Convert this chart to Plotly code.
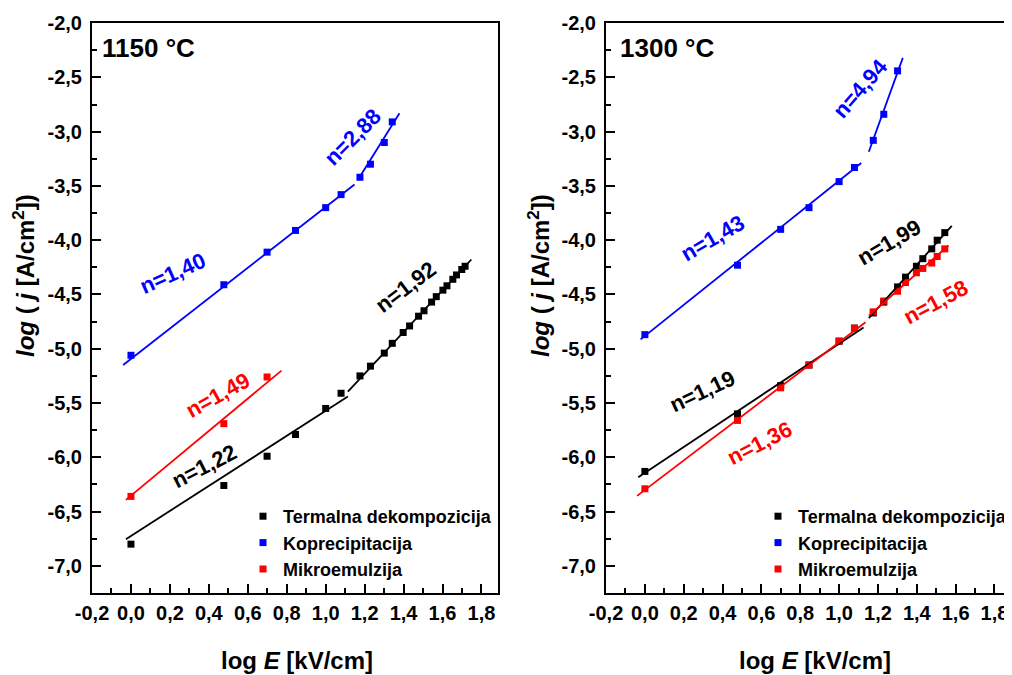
import plotly.graph_objects as go

# ---------------- data ----------------
# Left panel: 1150 °C
l_term_x = [0.0, 0.477, 0.699, 0.845, 1.0, 1.079, 1.176, 1.230, 1.301, 1.342, 1.398,
            1.431, 1.477, 1.505, 1.544, 1.568, 1.602, 1.623, 1.653, 1.672, 1.699, 1.716]
l_term_y = [-6.80, -6.26, -5.99, -5.79, -5.55, -5.41, -5.25, -5.16, -5.04, -4.95, -4.85,
            -4.79, -4.70, -4.65, -4.57, -4.52, -4.46, -4.42, -4.36, -4.32, -4.27, -4.24]
l_kop_x = [0.0, 0.477, 0.699, 0.845, 1.0, 1.079, 1.176, 1.230, 1.301, 1.342]
l_kop_y = [-5.06, -4.41, -4.11, -3.91, -3.70, -3.58, -3.42, -3.30, -3.10, -2.91]
l_mik_x = [0.0, 0.477, 0.699]
l_mik_y = [-6.36, -5.69, -5.26]

# Right panel: 1300 °C
r_term_x = [0.0, 0.477, 0.699, 0.845, 1.0, 1.079, 1.176, 1.230, 1.301, 1.342, 1.398,
            1.431, 1.477, 1.505, 1.544]
r_term_y = [-6.13, -5.60, -5.34, -5.15, -4.93, -4.81, -4.67, -4.57, -4.43, -4.34, -4.24,
            -4.17, -4.08, -4.00, -3.93]
r_kop_x = [0.0, 0.477, 0.699, 0.845, 1.0, 1.079, 1.176, 1.230, 1.301]
r_kop_y = [-4.87, -4.23, -3.90, -3.70, -3.46, -3.33, -3.08, -2.84, -2.44]
r_mik_x = [0.0, 0.477, 0.699, 0.845, 1.0, 1.079, 1.176, 1.230, 1.301, 1.342, 1.398,
           1.431, 1.477, 1.505, 1.544]
r_mik_y = [-6.29, -5.66, -5.36, -5.15, -4.93, -4.81, -4.66, -4.56, -4.47, -4.39, -4.30,
           -4.26, -4.21, -4.15, -4.08]

# Linear fits: y = intercept + slope * x, drawn from x0 to x1
fit_panel = ["L", "L", "L", "L", "L", "R", "R", "R", "R", "R", "R"]
fit_series = ["term", "term", "kop", "kop", "mik", "term", "term", "kop", "kop", "mik", "mik"]
fit_slope = [1.152, 1.92, 1.40, 2.88, 1.49, 1.19, 1.99, 1.43, 4.94, 1.36, 1.58]
fit_intercept = [-6.724, -7.534, -5.094, -6.801, -6.353, -6.143, -7.013, -4.882, -8.881, -6.301, -6.518]
fit_x0 = [-0.026, 1.114, -0.040, 1.165, -0.026, -0.034, 1.153, -0.022, 1.153, -0.040, 1.153]
fit_x1 = [1.114, 1.748, 1.148, 1.379, 0.773, 1.126, 1.580, 1.114, 1.328, 1.136, 1.563]

series_names = {"term": "Termalna dekompozicija", "kop": "Koprecipitacija", "mik": "Mikroemulzija"}
series_colors = {"term": "#000000", "kop": "#0000FF", "mik": "#FF0000"}

# slope labels (text, series, pixel x, pixel y, angle)
lbl_text = ["n=1,40", "n=2,88", "n=1,49", "n=1,22", "n=1,92",
            "n=4,94", "n=1,43", "n=1,99", "n=1,58", "n=1,19", "n=1,36"]
lbl_series = ["kop", "kop", "mik", "term", "term", "kop", "kop", "term", "mik", "term", "mik"]
lbl_px = [172, 352, 217, 204, 405, 860, 712, 889, 935, 702, 759]
lbl_py = [273, 137, 395, 467, 287, 88, 238, 243, 302, 392, 443]
lbl_angle = [-24, -45, -29, -27, -37, -49, -30, -30, -28, -25, -27]

panel_titles = ["1150 °C", "1300 °C"]
x_ticks = [-0.2, 0.0, 0.2, 0.4, 0.6, 0.8, 1.0, 1.2, 1.4, 1.6, 1.8]
x_ticktext = ["-0,2", "0,0", "0,2", "0,4", "0,6", "0,8", "1,0", "1,2", "1,4", "1,6", "1,8"]
y_ticks = [-2.0, -2.5, -3.0, -3.5, -4.0, -4.5, -5.0, -5.5, -6.0, -6.5, -7.0]
y_ticktext = ["-2,0", "-2,5", "-3,0", "-3,5", "-4,0", "-4,5", "-5,0", "-5,5", "-6,0", "-6,5", "-7,0"]

# ---------------- figure ----------------
OFF = 8                      # page body margin of the html page
W, H = 1012 - OFF, 675 - OFF
FONT = "Liberation Sans, Arial, Helvetica, sans-serif"


def fx(px):
    return (px - OFF) / W


def fy(py):
    return 1 - (py - OFF) / H


fig = go.Figure()

panels = {
    "L": dict(xa="x", ya="y", legend="legend",
              data=[("term", l_term_x, l_term_y), ("kop", l_kop_x, l_kop_y), ("mik", l_mik_x, l_mik_y)]),
    "R": dict(xa="x2", ya="y2", legend="legend2",
              data=[("term", r_term_x, r_term_y), ("kop", r_kop_x, r_kop_y), ("mik", r_mik_x, r_mik_y)]),
}

for key, p in panels.items():
    for s, xs, ys in p["data"]:
        fig.add_trace(go.Scatter(
            x=xs, y=ys, mode="markers", name=series_names[s],
            marker=dict(symbol="square", size=7, color=series_colors[s]),
            xaxis=p["xa"], yaxis=p["ya"], legend=p["legend"], showlegend=True))

for i in range(len(fit_slope)):
    p = panels[fit_panel[i]]
    xs = [fit_x0[i], fit_x1[i]]
    ys = [fit_intercept[i] + fit_slope[i] * v for v in xs]
    fig.add_trace(go.Scatter(
        x=xs, y=ys, mode="lines", line=dict(color=series_colors[fit_series[i]], width=1.8),
        xaxis=p["xa"], yaxis=p["ya"], showlegend=False, hoverinfo="skip"))

ydom = [fy(593), fy(23)]
xdomL = [fx(92), fx(498)]
xdomR = [fx(606), fx(1011)]

tickfont = dict(family=FONT, size=20, color="black", weight="bold")


def xaxis_cfg(dom, anchor):
    return dict(domain=dom, anchor=anchor, range=[-0.2001, 1.885], automargin=False,
                tickmode="array", tickvals=x_ticks, ticktext=x_ticktext,
                ticks="inside", ticklen=9, tickwidth=2, tickcolor="black",
                minor=dict(dtick=0.1, tick0=0, ticks="inside", ticklen=5, tickwidth=1.5, tickcolor="black"),
                showline=True, linewidth=2, linecolor="black", mirror=True,
                showgrid=False, zeroline=False, tickfont=tickfont, ticklabelstandoff=1)


def yaxis_cfg(anchor):
    return dict(domain=ydom, anchor=anchor, range=[-7.25, -1.999], automargin=False,
                tickmode="array", tickvals=y_ticks, ticktext=y_ticktext,
                ticks="inside", ticklen=9, tickwidth=2, tickcolor="black",
                minor=dict(dtick=0.25, tick0=0, ticks="inside", ticklen=5, tickwidth=1.5, tickcolor="black"),
                showline=True, linewidth=2, linecolor="black", mirror=True,
                showgrid=False, zeroline=False, tickfont=tickfont, ticklabelstandoff=4)


annotations = []
for i, t in enumerate(lbl_text):
    annotations.append(dict(
        text=t, x=fx(lbl_px[i]), y=fy(lbl_py[i]), xref="paper", yref="paper",
        showarrow=False, textangle=lbl_angle[i], xanchor="center", yanchor="middle",
        font=dict(family=FONT, size=22, color=series_colors[lbl_series[i]], weight="bold")))

for t, px in zip(panel_titles, [148, 667]):
    annotations.append(dict(
        text=t, x=fx(px), y=fy(48), xref="paper", yref="paper", showarrow=False,
        xanchor="center", yanchor="middle",
        font=dict(family=FONT, size=26, color="black", weight="bold")))

for px in [24, 539]:
    annotations.append(dict(
        text="<i>log</i> ( <i>j</i> [A/cm<sup>2</sup>])", x=fx(px), y=fy(276),
        xref="paper", yref="paper", showarrow=False, textangle=-90,
        xanchor="center", yanchor="middle",
        font=dict(family=FONT, size=24, color="black", weight="bold")))

for px, py in [(297, 660), (815, 660)]:
    annotations.append(dict(
        text="log <i>E</i> [kV/cm]", x=fx(px), y=fy(py),
        xref="paper", yref="paper", showarrow=False,
        xanchor="center", yanchor="middle",
        font=dict(family=FONT, size=24, color="black", weight="bold")))

legfont = dict(family=FONT, size=18, color="black", weight="bold")

fig.update_layout(
    width=W, height=H, autosize=False,
    margin=dict(l=0, r=0, t=0, b=0, pad=0, autoexpand=False),
    paper_bgcolor="white", plot_bgcolor="white",
    separators=",.",
    xaxis=xaxis_cfg(xdomL, "y"), yaxis=yaxis_cfg("x"),
    xaxis2=xaxis_cfg(xdomR, "y2"), yaxis2=yaxis_cfg("x2"),
    annotations=annotations,
    legend=dict(x=fx(243), y=fy(498), xanchor="left", yanchor="top",
                bgcolor="rgba(0,0,0,0)", font=legfont, tracegroupgap=0, itemwidth=30),
    legend2=dict(x=fx(758), y=fy(498), xanchor="left", yanchor="top",
                 bgcolor="rgba(0,0,0,0)", font=legfont, tracegroupgap=0, itemwidth=30),
)

fig.write_html("out.html")
